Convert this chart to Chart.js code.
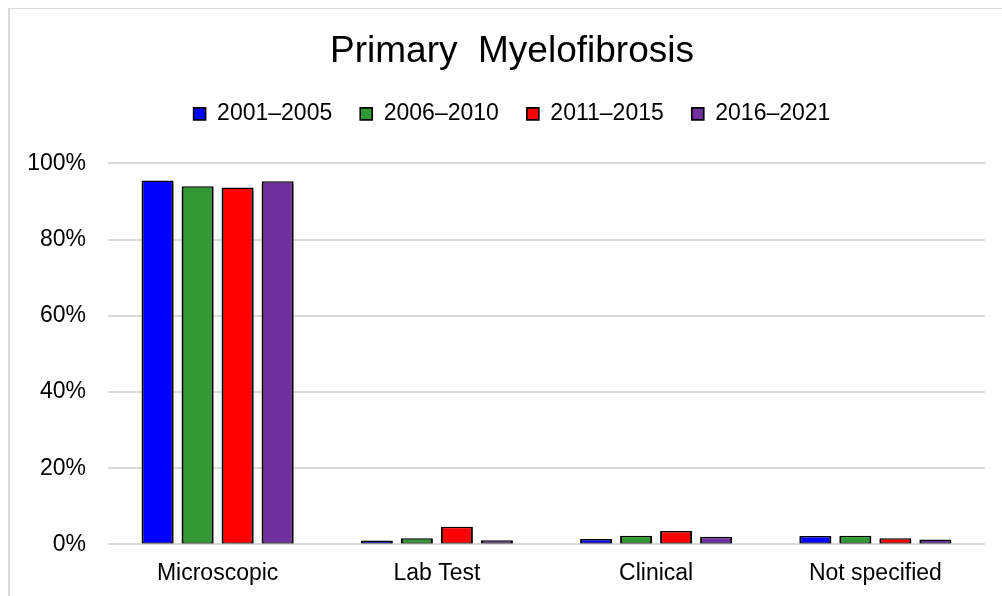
<!DOCTYPE html>
<html>
<head>
<meta charset="utf-8">
<script src="https://cdn.jsdelivr.net/npm/chart.js@4/dist/chart.umd.min.js"></script>
<style>
  html, body { margin: 0; padding: 0; background: #fff; overflow: hidden; }
  #frame {
    position: absolute; left: 8px; top: 8px; width: 1008px; height: 600px;
    border-left: 2px solid #d9d9d9; border-top: 1px solid #d9d9d9; box-sizing: border-box;
  }
  #wrap { position: absolute; left: 8px; top: 8px; width: 1008px; height: 586px; }
</style>
</head>
<body>
<div id="frame"></div>
<div id="wrap"><canvas id="c"></canvas></div>
<script>
// Diagnosis basis by period, share of cases (%)
const categories = ['Microscopic', 'Lab Test', 'Clinical', 'Not specified'];
const periods = ['2001\u20132005', '2006\u20132010', '2011\u20132015', '2016\u20132021'];
const p2001_2005 = [95.5, 1.0, 1.4, 2.2];
const p2006_2010 = [94.0, 1.6, 2.3, 2.3];
const p2011_2015 = [93.7, 4.6, 3.5, 1.6];
const p2016_2021 = [95.3, 1.1, 2.0, 1.3];
const yTicks = [0, 20, 40, 60, 80, 100];

const seriesValues = [p2001_2005, p2006_2010, p2011_2015, p2016_2021];
const seriesColors = ['#0000ff', '#339933', '#ff0000', '#7030a0'];

const FONT = '"Liberation Sans", Arial, sans-serif';

// soft drop shadow under the bars
const barShadow = {
  id: 'barShadow',
  beforeDatasetsDraw(chart) {
    const ctx = chart.ctx;
    ctx.save();
    ctx.shadowColor = 'rgba(0,0,0,0.35)';
    ctx.shadowBlur = 2;
    ctx.shadowOffsetX = 0;
    ctx.shadowOffsetY = 2;
  },
  afterDatasetsDraw(chart) {
    chart.ctx.restore();
  }
};

// extra room between the legend and the plot
const legendGap = {
  id: 'legendGap',
  beforeInit(chart) {
    const fit = chart.legend.fit;
    chart.legend.fit = function () {
      fit.call(this);
      this.height += 28;
    };
  }
};

new Chart(document.getElementById('c'), {
  type: 'bar',
  data: {
    labels: categories,
    datasets: periods.map((p, i) => ({
      label: p,
      data: seriesValues[i],
      backgroundColor: seriesColors[i],
      borderColor: '#000',
      borderWidth: { top: 1.5, left: 2, right: 2, bottom: 1 },
      borderSkipped: false,
      categoryPercentage: 0.73,
      barPercentage: 0.8,
      yAxisID: 'y'
    }))
  },
  options: {
    responsive: true,
    maintainAspectRatio: false,
    animation: false,
    layout: { padding: { left: 0, right: 0, top: 0, bottom: 0 } },
    plugins: {
      title: {
        display: true,
        text: 'Primary  Myelofibrosis',
        color: '#000',
        font: { family: FONT, size: 37, weight: 'normal' },
        padding: { top: 22, bottom: 0 }
      },
      legend: {
        display: true,
        position: 'top',
        labels: {
          color: '#000',
          font: { family: FONT, size: 23 },
          boxWidth: 12,
          boxHeight: 12,
          padding: 28
        }
      },
      tooltip: { enabled: false }
    },
    scales: {
      x: {
        grid: { display: false },
        border: { display: false },
        ticks: { color: '#000', font: { family: FONT, size: 23 }, padding: 7 }
      },
      y: {
        position: 'left',
        min: 0,
        max: 100,
        afterBuildTicks: (scale) => { scale.ticks = yTicks.map(v => ({ value: v })); },
        afterFit: (scale) => { scale.width = 100; },
        grid: { color: '#d9d9d9', lineWidth: 2, drawTicks: false },
        border: { display: false },
        ticks: {
          color: '#000',
          font: { family: FONT, size: 23 },
          padding: 22,
          callback: (v) => v + '%'
        }
      },
      yRight: {
        position: 'right',
        display: true,
        afterFit: (scale) => { scale.width = 31; },
        grid: { display: false },
        border: { display: false },
        ticks: { display: false }
      }
    }
  },
  plugins: [barShadow, legendGap]
});
</script>
</body>
</html>
